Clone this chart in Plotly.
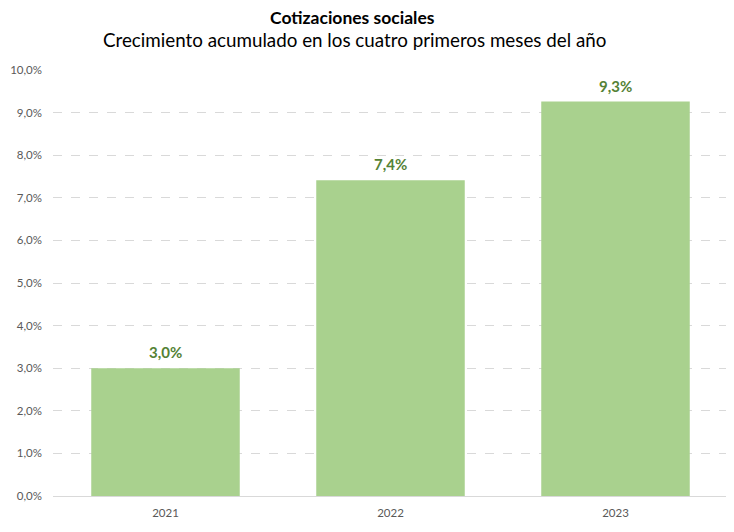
import plotly.graph_objects as go

# Data
years = ['2021', '2022', '2023']
growth = [3.0, 7.41, 9.26]  # % accumulated growth, Jan-Apr
tick_vals = [0, 1, 2, 3, 4, 5, 6, 7, 8, 9, 10]
tick_text = [('%.1f%%' % v).replace('.', ',') for v in tick_vals]

fig = go.Figure()

# Bars
fig.add_trace(go.Bar(
    x=years, y=growth,
    marker=dict(color='#a9d18e', line=dict(width=0)),
    width=0.66, hoverinfo='skip'))

# Value labels above each bar (category index, since year strings look numeric)
for i, val in enumerate(growth):
    fig.add_annotation(
        x=i, y=val, text=('<b>%.1f%%</b>' % val).replace('.', ','),
        showarrow=False, yanchor='middle', yshift=16,
        font=dict(family='Lato', size=15, color='#548235'))

# page has an 8px body margin, so margins are shifted to compensate
fig.update_layout(
    width=734, height=532,
    margin=dict(l=45, r=14, t=62, b=44),
    paper_bgcolor='white', plot_bgcolor='white',
    showlegend=False,
    font=dict(family='Lato', color='#595959'),
)

# Titles
fig.add_annotation(text='<b>Cotizaciones sociales</b>', xref='paper', yref='paper',
                   x=0.443, y=1, yshift=53, showarrow=False,
                   font=dict(size=17.5, color='black'), xanchor='center', yanchor='middle')
fig.add_annotation(text='Crecimiento acumulado en los cuatro primeros meses del año',
                   xref='paper', yref='paper', x=0.447, y=1, yshift=31, showarrow=False,
                   font=dict(size=18.8, color='black'), xanchor='center', yanchor='middle')

fig.update_yaxes(
    range=[0, 10], tickvals=tick_vals, ticktext=tick_text,
    showgrid=True, gridcolor='#d9d9d9', griddash='dash', gridwidth=1,
    zeroline=False, tickfont=dict(size=11.5, color='#595959'),
    ticks='', showline=False, fixedrange=True, ticklabelstandoff=10,
    automargin=False)

fig.update_xaxes(
    type='category', range=[-0.5, len(years) - 0.5],
    showline=True, linecolor='#d9d9d9', linewidth=1,
    tickfont=dict(size=11.5, color='#595959'), ticks='', fixedrange=True,
    ticklabelstandoff=6, automargin=False)

fig.write_html("out.html")
